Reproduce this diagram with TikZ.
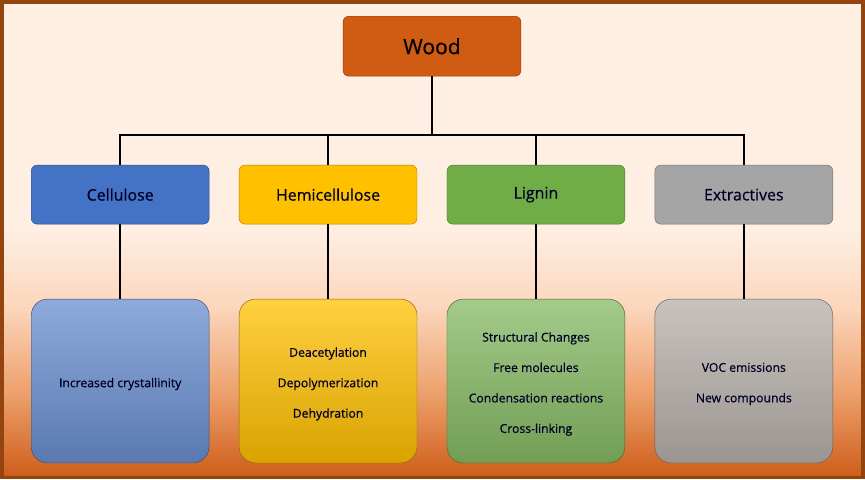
\documentclass[tikz,border=0pt]{standalone}
\usepackage{fontspec}
\setmainfont{Open Sans}[FakeBold=0.6]
\usetikzlibrary{calc}

\definecolor{bgA}{HTML}{FEEFE2}
\definecolor{bgB}{HTML}{FCD6BC}
\definecolor{bgC}{HTML}{EDA06C}
\definecolor{bgD}{HTML}{CD5C18}
\definecolor{frameC}{HTML}{94440F}
\definecolor{woodC}{HTML}{D05B12}
\definecolor{celC}{HTML}{4472C4}
\definecolor{hemC}{HTML}{FFC000}
\definecolor{ligC}{HTML}{70AD47}
\definecolor{extC}{HTML}{A5A5A5}

\pgfdeclareverticalshading{woodbg}{100bp}{color(0bp)=(bgD); color(25bp)=(bgD);
  color(34bp)=(bgC); color(43bp)=(bgB); color(51bp)=(bgA); color(75bp)=(bgA); color(100bp)=(bgA)}

\tikzset{
  topbox/.style={draw=woodC!70!black, fill=woodC, rounded corners=5pt, minimum width=178*0.03cm,
    minimum height=60*0.03cm, font=\fontsize{18}{20}\selectfont},
  partbox/.style={draw=#1!70!black, fill=#1, rounded corners=5pt, minimum width=178*0.03cm,
    minimum height=59*0.03cm, font=\fontsize{13.6}{15}\selectfont, text=black!85!blue},
  effectbox/.style={draw=#1!55!black, top color=#1!75!white, bottom color=#1!85!black,
    rounded corners=14pt, minimum width=178*0.03cm, minimum height=164*0.03cm},
  effecttext/.style={align=center, font=\fontsize{10.4}{26}\selectfont, text=black!85!blue},
  link/.style={line width=1.6pt, black}
}

\begin{document}
\begin{tikzpicture}[x=0.03cm, y=-0.03cm]
		%%%%% BACKGROUND %%%%%
		\shade[shading=woodbg] (0, 0) rectangle (865, 479);
		\draw[frameC, line width=3pt] (1.5, 1.5) rectangle (863.5, 477.5);
		\useasboundingbox (0, 0) rectangle (865, 479);
		
		%%%%% NODES %%%%%
		\node[topbox] (wood) at (432, 46) {Wood};
		
		\node[partbox=celC] (cellulose) at (120, 194.5) {Cellulose};
		\node[partbox=hemC] (hemi) at (328, 194.5) {Hemicellulose};
		\node[partbox=ligC] (lignin) at (536, 194.5) {Lignin};
		\node[partbox=extC] (extract) at (744, 194.5) {Extractives};
		
		\node[effectbox=celC!80!white] (celfx) at (120, 381) {};
		\node[effectbox=hemC] (hemfx) at (328, 381) {};
		\node[effectbox=ligC!85!white] (ligfx) at (536, 381) {};
		\node[effectbox=extC!80!bgB] (extfx) at (744, 381) {};
		
		\node[effecttext] (celtxt) at ($(celfx)+(0, 3)$) {Increased crystallinity};
		\node[effecttext] (hemtxt) at ($(hemfx)+(0, 3)$) {Deacetylation\\Depolymerization\\Dehydration};
		\node[effecttext] (ligtxt) at ($(ligfx)+(0, 3)$) {Structural Changes\\Free molecules\\Condensation reactions\\Cross-linking};
		\node[effecttext] (exttxt) at ($(extfx)+(0, 3)$) {VOC emissions\\New compounds};
		
		%%%%% LINKS %%%%%
		\coordinate (bus) at (432, 135);
		\draw[link] (wood.south) -- (bus);
		\draw[link] (cellulose.north) |- (bus) -| (extract.north);
		\draw[link] (hemi.north) -- (hemi.north |- bus);
		\draw[link] (lignin.north) -- (lignin.north |- bus);
		
		\draw[link] (cellulose) -- (celfx);
		\draw[link] (hemi) -- (hemfx);
		\draw[link] (lignin) -- (ligfx);
		\draw[link] (extract) -- (extfx);
		
		%%%%% END %%%%%
	\end{tikzpicture}
\end{document}
